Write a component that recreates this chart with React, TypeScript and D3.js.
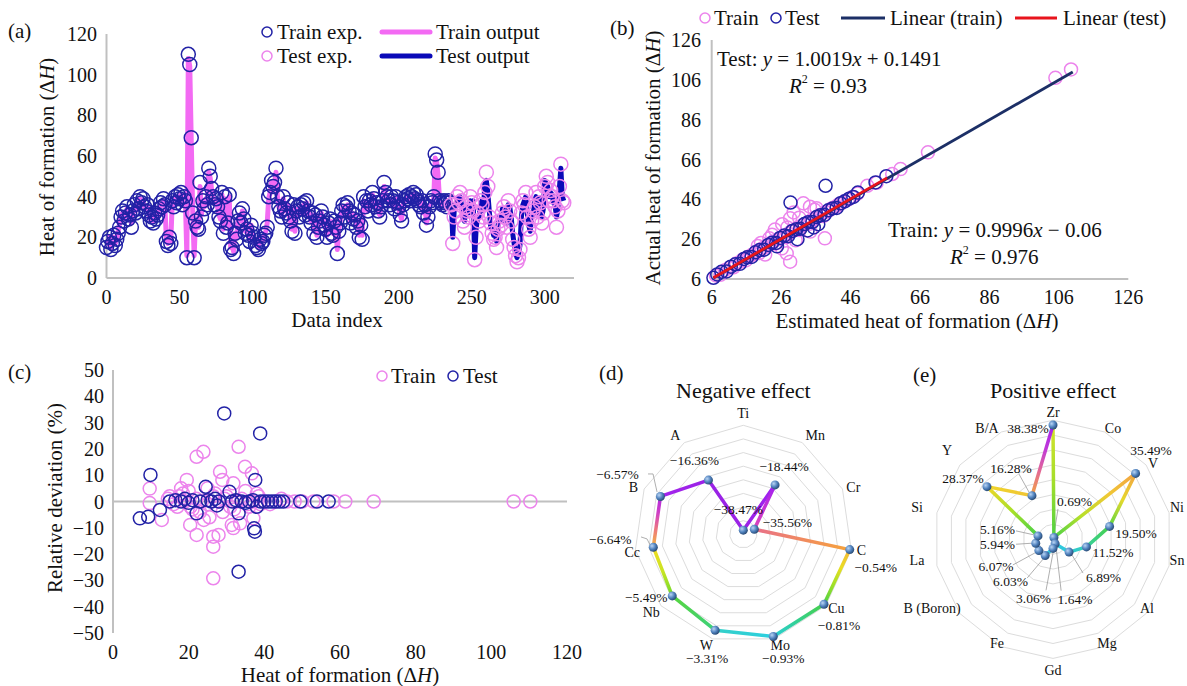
import React from 'react';
import * as d3 from 'd3';

const W = 1187;
const H = 686;
const FONT = "'Liberation Serif', 'Times New Roman', Times, 'DejaVu Serif', serif";

// ---------- (a) experimental values and model outputs by data index ----------
const TEST_START = 236;
const trainExp = [
  15, 18, 20, 14, 17, 21, 16, 19, 22, 25,
  30, 33, 28, 32, 35, 29, 31, 25, 33, 36,
  32, 38, 34, 40, 37, 39, 35, 33, 36, 31,
  28, 30, 27, 32, 29, 31, 34, 37, 35, 39,
  36, 18, 16, 20, 17, 38, 35, 40, 37, 41,
  39, 42, 36, 40, 38, 10, 110, 105, 69, 32,
  10, 28, 25, 24, 47, 30, 38, 34, 40, 36,
  54, 50, 44, 40, 36, 39, 35, 30, 28, 42,
  22, 40, 25, 27, 41, 14, 15, 12, 22, 19,
  28, 32, 27, 34, 29, 22, 24, 21, 18, 26,
  22, 20, 16, 15, 14, 19, 17, 18, 21, 22,
  25, 40, 42, 48, 45, 47, 54, 40, 35, 33,
  30, 40, 34, 32, 37, 30, 28, 23, 36, 22,
  33, 35, 30, 36, 34, 37, 31, 38, 33, 30,
  27, 32, 22, 31, 20, 25, 28, 33, 30, 26,
  24, 20, 27, 29, 22, 21, 28, 25, 12, 23,
  27, 33, 36, 30, 35, 37, 33, 27, 32, 29,
  31, 25, 28, 20, 26, 19, 40, 35, 38, 33,
  38, 36, 42, 39, 35, 37, 33, 30, 35, 38,
  47, 42, 40, 38, 36, 40, 38, 34, 40, 37,
  35, 31, 28, 36, 38, 40, 39, 41, 38, 40,
  42, 39, 41, 38, 36, 35, 38, 32, 36, 26,
  30, 35, 38, 37, 40, 61, 58, 52, 38, 37,
  36, 38, 37, 35, 38, 37,
];
const trainOut = [
  16, 17, 20, 15, 18, 20, 17, 19, 23, 27,
  31, 32, 29, 31, 34, 30, 31, 27, 33, 35,
  33, 37, 35, 39, 37, 38, 35, 34, 35, 31,
  29, 30, 28, 31, 30, 31, 34, 36, 36, 38,
  35, 19, 17, 20, 18, 37, 35, 39, 38, 40,
  39, 41, 37, 40, 38, 11, 108, 104, 68, 33,
  11, 29, 26, 25, 45, 31, 37, 35, 39, 36,
  52, 49, 43, 40, 37, 38, 35, 31, 29, 41,
  24, 39, 26, 28, 40, 15, 16, 13, 22, 20,
  28, 31, 28, 33, 29, 23, 24, 22, 19, 26,
  22, 20, 17, 16, 15, 19, 18, 18, 21, 23,
  27, 39, 42, 47, 45, 46, 52, 40, 35, 33,
  31, 39, 34, 33, 36, 30, 28, 24, 35, 23,
  33, 34, 31, 35, 34, 36, 32, 37, 33, 30,
  28, 31, 23, 31, 21, 25, 28, 32, 30, 26,
  24, 21, 27, 28, 23, 22, 28, 25, 14, 24,
  28, 33, 35, 31, 35, 36, 33, 28, 32, 29,
  31, 26, 28, 21, 26, 21, 38, 35, 37, 33,
  37, 36, 41, 39, 35, 37, 33, 31, 35, 38,
  45, 41, 40, 38, 36, 39, 38, 34, 39, 37,
  35, 31, 29, 36, 38, 39, 39, 40, 38, 39,
  41, 39, 40, 38, 36, 35, 37, 32, 36, 27,
  30, 35, 37, 37, 39, 59, 57, 50, 38, 37,
  36, 37, 37, 35, 37, 37,
];
const testExp = [
  36, 17, 30, 33, 40, 37, 42, 38, 28, 25,
  35, 33, 30, 40, 37, 33, 9, 20, 32, 28,
  38, 36, 30, 42, 52, 45, 30, 27, 22, 19,
  20, 15, 24, 28, 26, 32, 35, 30, 25, 38,
  33, 28, 19, 15, 11, 8, 10, 14, 32, 38,
  36, 42, 30, 24, 20, 28, 33, 35, 42, 30,
  40, 37, 27, 32, 45, 50, 47, 38, 43, 40,
  38, 35, 25, 33, 45, 56, 38, 37,
];
const testOut = [
  37, 20, 33, 35, 38, 40, 40, 36, 30, 28,
  33, 35, 32, 38, 36, 38, 10, 24, 30, 30,
  36, 38, 33, 47, 48, 42, 33, 25, 24, 21,
  22, 18, 26, 30, 28, 34, 33, 28, 27, 36,
  35, 30, 22, 17, 12, 10, 12, 16, 30, 36,
  38, 40, 32, 26, 23, 30, 31, 37, 40, 32,
  38, 39, 30, 34, 48, 46, 45, 40, 42, 41,
  37, 36, 30, 34, 44, 54, 40, 38,
];
const aXTicks = [0, 50, 100, 150, 200, 250, 300];
const aYTicks = [0, 20, 40, 60, 80, 100, 120];

// ---------- (b) estimated vs actual ----------
const bTrainEst = [
  7.2, 8.5, 9.8, 11, 12.3, 13.1, 14.2, 15.0, 15.8, 16.6, 17.4, 18.1, 18.9, 19.7, 20.4, 21.2,
  22.0, 22.8, 23.5, 24.3, 25.1, 25.8, 26.6, 27.3, 28.1, 28.9, 29.6, 30.4, 31.2, 31.9, 32.7,
  33.5, 34.2, 35.0, 35.8, 36.5, 37.3, 38.1, 38.8, 39.6, 40.4, 41.1, 41.9, 42.7, 43.5, 44.3,
  45.2, 46.4, 48, 50.8, 53.5, 58, 60.4, 68.3, 105, 109.5,
  28.6, 38.6, 29.6, 26.3, 26.2, 27.6, 32.4, 34.3, 28.6, 36.2, 31.2, 24.2, 22.6, 21.4, 35.6,
  30.2, 27.8, 34.4, 23.4, 20.2, 19.3,
];
const bTrainAct = [
  7.8, 8.1, 10.4, 11.6, 11.9, 13.8, 14.6, 15.9, 15.3, 17.2, 17.9, 18.6, 19.8, 19.1, 21.2, 21.9,
  22.8, 23.4, 24.6, 23.8, 25.9, 26.7, 27.4, 26.9, 28.8, 29.9, 30.4, 31.2, 30.6, 32.8, 33.5,
  34.3, 33.7, 35.9, 36.4, 37.4, 38.1, 37.6, 39.7, 40.2, 41.3, 41.8, 42.5, 43.6, 44.2, 45.1,
  45.8, 47.1, 48.9, 52.8, 54.3, 58.7, 61.2, 69.6, 107, 111.2,
  14.7, 26.4, 39.4, 33.5, 21.4, 18.9, 44.0, 42.3, 36.5, 41.5, 36.8, 30.8, 26.4, 18.3, 40.8,
  25.4, 31.9, 29.8, 28.2, 24.1, 22.6,
];
const bTestEst = [
  6.5, 7.6, 8.8, 10.3, 11.5, 12.8, 14.1, 15.3, 16.2, 17.5, 18.6, 19.8, 21.1, 22.3, 23.4, 24.6,
  25.7, 26.9, 28.0, 29.2, 30.4, 31.5, 32.7, 33.8, 35.0, 36.2, 37.3, 38.5, 39.6, 40.8, 42.0,
  43.1, 44.3, 45.6, 46.8, 48.1, 53.2, 56.3,
  28.7, 38.8, 30.7, 36.7, 35.4, 24.8, 33.6,
];
const bTestAct = [
  6.6, 8.3, 9.6, 9.8, 12.2, 13.4, 13.6, 16.1, 16.9, 17.1, 19.4, 20.5, 20.7, 23.1, 24.2, 24.1,
  26.6, 27.8, 27.5, 30.1, 31.0, 31.2, 33.6, 34.5, 34.6, 37.1, 38.0, 38.2, 40.5, 41.4, 41.7,
  44.0, 45.0, 46.3, 47.2, 49.4, 54.5, 57.6,
  44.4, 52.8, 26, 33.5, 31.9, 22.4, 30.4,
];
const bTicks = [6, 26, 46, 66, 86, 106, 126];
const trainFit = { slope: 0.9996, intercept: -0.06, from: 6.5, to: 110 };
const testFit = { slope: 1.0019, intercept: 0.1491, from: 6.5, to: 56.5 };

// ---------- (c) relative deviation vs heat of formation ----------
const cTrainX = [
  14.5, 16, 17.5, 19, 20.5, 22, 23.5, 25, 26.5, 28, 29.5, 31, 32.5, 34, 35.5, 37, 38.5, 40,
  41.5, 43, 44.5, 46, 48, 50, 53, 58.3, 61.4, 68.9, 105.9, 110.3,
  9.7, 9.7, 12.9, 15, 17, 18.5, 19.5, 20.4, 22.1, 22.1, 23.9, 24, 26.5, 26.5, 26.5, 27.9, 28.3,
  28.9, 31.8, 33.2, 34.9, 33.6, 31.4, 31.8, 37.1, 36.7, 20, 21, 25, 27, 29, 30, 32, 35, 36, 38,
  39, 25.5, 23, 18,
];
const cTrainY = [
  1, -1, 2, 0, -2, 1, 0, -1, 2, 0, 1, -2, 0, 1, -1, 0, 2, 0,
  -1, 0, 1, 0, 0, 0, 0, 0, 0, 0, 0, 0,
  4.9, -0.6, -7, 2, -2, 3, 8.2, -8.9, 17, -12.7, 18.9, -7, -13.4, -17.2, -29.2, -12.7, 11.3,
  8.2, 6.9, 20.8, 13.2, -8.3, -8.9, -10.1, -6.4, 10.7, 4, -3, 5, 3, -4, 2, -3, 4, -2, 3,
  -1, -6, -4, 5,
];
const cTestX = [
  7.1, 9.3, 9.9, 12.4, 15, 16.5, 18, 19, 20, 21, 22.1, 23, 24.5, 25, 26, 27, 27.5, 28, 29.4,
  30.8, 31.5, 32.5, 33.2, 33.2, 34, 35, 36, 37, 37.3, 37.5, 37.6, 38.9, 38, 39, 40, 41, 42, 43,
  44, 45, 49.5, 53.9, 57,
];
const cTestY = [
  -6.4, -5.8, 10.1, -3.2, 0, 0.5, 0, 1, -0.5, 0.5, -4.5, 0, 5.6, 0.5, 0, 1, -1.5, 0, 33.5,
  3.7, 0, 0.5, -4.5, -26.7, 0, -0.5, 0, 0.5, -10.2, -11.5, 8.2, 25.9, -2, 0, 0, 0, 0, 0,
  0, 0, 0, 0, 0,
];
const cXTicks = [0, 20, 40, 60, 80, 100, 120];
const cYTicks = [-50, -40, -30, -20, -10, 0, 10, 20, 30, 40, 50];

// ---------- (d) negative effect ----------
const negElements = ['Ti', 'Mn', 'Cr', 'C', 'Cu', 'Mo', 'W', 'Nb', 'Cc', 'B', 'A'];
const negValues = [-38.47, -18.44, -35.56, -0.54, -0.81, -0.93, -3.31, -5.49, -6.64, -6.57, -16.36];

// ---------- (e) positive effect ----------
const posElements = ['Zr', 'Co', 'V', 'Ni', 'Sn', 'Al', 'Mg', 'Gd', 'Fe', 'B (Boron)', 'La', 'Si', 'Y', 'B/A'];
const posValues = [38.38, 0.69, 35.49, 19.5, 11.52, 6.89, 1.64, 3.06, 6.03, 6.07, 5.94, 5.16, 28.37, 16.28];

// ---------- styling ----------
const BLUE_RING = '#2222a6';
const PINK_RING = '#ec84ec';
const PINK_LINE = '#f36af3';
const BLUE_LINE = '#0a0ab8';
const AXIS = '#c0c0c0';
const TXT = '#111';

const fmtMinus = (v: number) => (v < 0 ? '\u2212' + Math.abs(v) : String(v));
const fmtPct = (v: number) => (v < 0 ? '\u2212' + Math.abs(v).toFixed(2) : v.toFixed(2)) + '%';

function DeltaH() {
  return (
    <>
      (Δ<tspan fontStyle="italic">H</tspan>)
    </>
  );
}

function PanelA() {
  const x = d3.scaleLinear().domain([0, 320]).range([106.5, 574]);
  const y = d3.scaleLinear().domain([0, 120]).range([278, 34]);
  const trainLine = d3.line<number>().x((_, i) => x(i)).y((d) => y(d));
  const testLine = d3.line<number>().x((_, i) => x(i + TEST_START)).y((d) => y(d));
  return (
    <g>
      <text x={8} y={31} fontSize={21} dominantBaseline="central">(a)</text>
      <line x1={x(0)} x2={x(0)} y1={y(120)} y2={y(0)} stroke={AXIS} strokeWidth={2} />
      <line x1={x(0)} x2={x(320)} y1={y(0)} y2={y(0)} stroke={AXIS} strokeWidth={2} />
      {aYTicks.map((t) => (
        <text key={t} x={97} y={y(t)} fontSize={20} textAnchor="end" dominantBaseline="central">{t}</text>
      ))}
      {aXTicks.map((t) => (
        <text key={t} x={x(t)} y={297} fontSize={20} textAnchor="middle" dominantBaseline="central">{t}</text>
      ))}
      <path d={trainLine(trainOut) || ''} fill="none" stroke={PINK_LINE} strokeWidth={5} strokeLinejoin="round" />
      <path d={testLine(testOut) || ''} fill="none" stroke={BLUE_LINE} strokeWidth={5} strokeLinejoin="round" />
      {trainExp.map((v, i) => (
        <circle key={'tr' + i} cx={x(i)} cy={y(v)} r={7} fill="none" stroke={BLUE_RING} strokeWidth={1.5} />
      ))}
      {testExp.map((v, i) => (
        <circle key={'te' + i} cx={x(i + TEST_START)} cy={y(v)} r={7} fill="none" stroke={PINK_RING} strokeWidth={1.5} />
      ))}
      <text transform="translate(47,157) rotate(-90)" fontSize={21} textAnchor="middle" dominantBaseline="central">
        Heat of formation <DeltaH />
      </text>
      <text x={337} y={320} fontSize={21} textAnchor="middle" dominantBaseline="central">Data index</text>
      {/* legend */}
      <circle cx={267} cy={32} r={5} fill="none" stroke={BLUE_RING} strokeWidth={1.5} />
      <text x={277} y={32} fontSize={21} dominantBaseline="central">Train exp.</text>
      <circle cx={267} cy={56} r={5} fill="none" stroke={PINK_RING} strokeWidth={1.5} />
      <text x={277} y={56} fontSize={21} dominantBaseline="central">Test exp.</text>
      <line x1={382} x2={430} y1={32} y2={32} stroke={PINK_LINE} strokeWidth={5} strokeLinecap="round" />
      <text x={436} y={32} fontSize={21} dominantBaseline="central">Train output</text>
      <line x1={382} x2={430} y1={56} y2={56} stroke={BLUE_LINE} strokeWidth={5} strokeLinecap="round" />
      <text x={436} y={56} fontSize={21} dominantBaseline="central">Test output</text>
    </g>
  );
}

function PanelB() {
  const x = d3.scaleLinear().domain([6, 126]).range([711.7, 1128.3]);
  const y = d3.scaleLinear().domain([6, 126]).range([279, 40]);
  const fitLine = (f: { slope: number; intercept: number; from: number; to: number }) =>
    d3.line<number>().x((d) => x(d)).y((d) => y(f.slope * d + f.intercept))([f.from, f.to]) || '';
  return (
    <g>
      <text x={610} y={28} fontSize={21} dominantBaseline="central">(b)</text>
      <line x1={x(6)} x2={x(6)} y1={y(126)} y2={y(6)} stroke={AXIS} strokeWidth={2} />
      <line x1={x(6)} x2={x(126)} y1={y(6)} y2={y(6)} stroke={AXIS} strokeWidth={2} />
      {bTicks.map((t) => (
        <text key={'y' + t} x={701} y={y(t)} fontSize={20} textAnchor="end" dominantBaseline="central">{t}</text>
      ))}
      {bTicks.map((t) => (
        <text key={'x' + t} x={x(t)} y={297} fontSize={20} textAnchor="middle" dominantBaseline="central">{t}</text>
      ))}
      {bTrainEst.map((v, i) => (
        <circle key={'p' + i} cx={x(v)} cy={y(bTrainAct[i])} r={6.5} fill="none" stroke={PINK_RING} strokeWidth={1.5} />
      ))}
      {bTestEst.map((v, i) => (
        <circle key={'b' + i} cx={x(v)} cy={y(bTestAct[i])} r={6.5} fill="none" stroke={BLUE_RING} strokeWidth={1.5} />
      ))}
      <path d={fitLine(trainFit)} stroke="#1c2f66" strokeWidth={2.8} fill="none" />
      <path d={fitLine(testFit)} stroke="#e8141c" strokeWidth={2.8} fill="none" />
      <text x={717} y={59} fontSize={21} dominantBaseline="central">
        Test: <tspan fontStyle="italic">y</tspan> = 1.0019<tspan fontStyle="italic">x</tspan> + 0.1491
      </text>
      <text x={789} y={86} fontSize={21} dominantBaseline="central">
        <tspan fontStyle="italic">R</tspan>
        <tspan fontSize={12} dy={-7}>2</tspan>
        <tspan dy={7}> = 0.93</tspan>
      </text>
      <text x={888} y={230} fontSize={21} dominantBaseline="central">
        Train: <tspan fontStyle="italic">y</tspan> = 0.9996<tspan fontStyle="italic">x</tspan> − 0.06
      </text>
      <text x={950} y={257} fontSize={21} dominantBaseline="central">
        <tspan fontStyle="italic">R</tspan>
        <tspan fontSize={12} dy={-7}>2</tspan>
        <tspan dy={7}> = 0.976</tspan>
      </text>
      <text transform="translate(653,158) rotate(-90)" fontSize={21} textAnchor="middle" dominantBaseline="central">
        Actual heat of formation <DeltaH />
      </text>
      <text x={917} y={321} fontSize={21} textAnchor="middle" dominantBaseline="central">
        Estimated heat of formation <DeltaH />
      </text>
      {/* legend */}
      <circle cx={705} cy={18} r={5} fill="none" stroke={PINK_RING} strokeWidth={1.5} />
      <text x={714} y={18} fontSize={21} dominantBaseline="central">Train</text>
      <circle cx={776} cy={18} r={5} fill="none" stroke={BLUE_RING} strokeWidth={1.5} />
      <text x={785} y={18} fontSize={21} dominantBaseline="central">Test</text>
      <line x1={841} x2={885} y1={18} y2={18} stroke="#1c2f66" strokeWidth={2.8} />
      <text x={890} y={18} fontSize={21} dominantBaseline="central">Linear (train)</text>
      <line x1={1015} x2={1057} y1={18} y2={18} stroke="#e8141c" strokeWidth={2.8} />
      <text x={1063} y={18} fontSize={21} dominantBaseline="central">Linear (test)</text>
    </g>
  );
}

function PanelC() {
  const x = d3.scaleLinear().domain([0, 120]).range([113, 567]);
  const y = d3.scaleLinear().domain([-50, 50]).range([633, 370]);
  return (
    <g>
      <text x={8} y={372} fontSize={21} dominantBaseline="central">(c)</text>
      <line x1={x(0)} x2={x(0)} y1={y(50)} y2={y(-50)} stroke={AXIS} strokeWidth={2} />
      <line x1={x(0)} x2={x(120)} y1={y(0)} y2={y(0)} stroke={AXIS} strokeWidth={2} />
      {cYTicks.map((t) => (
        <text key={'y' + t} x={104} y={y(t)} fontSize={20} textAnchor="end" dominantBaseline="central">{fmtMinus(t)}</text>
      ))}
      {cXTicks.map((t) => (
        <text key={'x' + t} x={x(t)} y={652} fontSize={20} textAnchor="middle" dominantBaseline="central">{t}</text>
      ))}
      {cTrainX.map((v, i) => (
        <circle key={'p' + i} cx={x(v)} cy={y(cTrainY[i])} r={6.5} fill="none" stroke={PINK_RING} strokeWidth={1.5} />
      ))}
      {cTestX.map((v, i) => (
        <circle key={'b' + i} cx={x(v)} cy={y(cTestY[i])} r={6.5} fill="none" stroke={BLUE_RING} strokeWidth={1.5} />
      ))}
      <text transform="translate(55,498) rotate(-90)" fontSize={21} textAnchor="middle" dominantBaseline="central">
        Relative deviation (%)
      </text>
      <text x={340} y={675} fontSize={21} textAnchor="middle" dominantBaseline="central">
        Heat of formation <DeltaH />
      </text>
      <circle cx={382} cy={376} r={5} fill="none" stroke={PINK_RING} strokeWidth={1.5} />
      <text x={391} y={376} fontSize={21} dominantBaseline="central">Train</text>
      <circle cx={453} cy={376} r={5} fill="none" stroke={BLUE_RING} strokeWidth={1.5} />
      <text x={463} y={376} fontSize={21} dominantBaseline="central">Test</text>
    </g>
  );
}

type RadarProps = {
  id: string;
  cx: number;
  cy: number;
  radius: number;
  domain: [number, number];
  cats: string[];
  values: number[];
  catOffsets: [number, number][];
  valueOffsets: [number, number][];
  leaders: ([number, number][] | null)[];
  segColors: string[][];
  title: string;
  tag: string;
  tagX: number;
};

function Radar(p: RadarProps) {
  const n = p.cats.length;
  const r = d3.scaleLinear().domain(p.domain).range([0, p.radius]);
  const ang = (i: number) => (2 * Math.PI * i) / n;
  const pt = (rad: number, i: number): [number, number] => [p.cx + rad * Math.sin(ang(i)), p.cy - rad * Math.cos(ang(i))];
  const pts = p.values.map((v, i) => pt(r(v), i));
  const rings = d3.range(1, 9).map((k) => d3.range(n).map((i) => pt((p.radius * k) / 8, i)));
  return (
    <g>
      <defs>
        <radialGradient id={p.id + '-ball'} cx="35%" cy="35%" r="70%">
          <stop offset="0%" stopColor="#b8d4f4" />
          <stop offset="55%" stopColor="#4f81bd" />
          <stop offset="100%" stopColor="#27476f" />
        </radialGradient>
        {pts.map((a, i) => {
          const b = pts[(i + 1) % n];
          const cols = p.segColors[i];
          return (
            <linearGradient key={i} id={`${p.id}-seg${i}`} gradientUnits="userSpaceOnUse" x1={a[0]} y1={a[1]} x2={b[0] + 0.01} y2={b[1] + 0.01}>
              {cols.map((c, k) => (
                <stop key={k} offset={cols.length === 1 ? 0 : k / (cols.length - 1)} stopColor={c} />
              ))}
            </linearGradient>
          );
        })}
      </defs>
      <text x={p.tagX} y={p.tag === '(d)' ? 373 : 375} fontSize={21} dominantBaseline="central">{p.tag}</text>
      <text x={p.cx} y={390} fontSize={22} textAnchor="middle" dominantBaseline="central">{p.title}</text>
      {rings.map((ring, k) => (
        <polygon key={k} points={ring.map((q) => q.join(',')).join(' ')} fill="none" stroke="#dcdcdc" strokeWidth={1} />
      ))}
      {p.cats.map((c, i) => (
        <text key={c} x={p.cx + p.catOffsets[i][0]} y={p.cy + p.catOffsets[i][1]} fontSize={14} textAnchor="middle" dominantBaseline="central" fill={TXT}>
          {c}
        </text>
      ))}
      {p.leaders.map((ld, i) =>
        ld ? (
          <polyline key={'ld' + i} points={ld.map((o) => `${pts[i][0] + o[0]},${pts[i][1] + o[1]}`).join(' ')} fill="none" stroke="#9a9a9a" strokeWidth={0.8} />
        ) : null
      )}
      {pts.map((a, i) => {
        const b = pts[(i + 1) % n];
        return (
          <line key={'s' + i} x1={a[0]} y1={a[1]} x2={b[0]} y2={b[1]} stroke={`url(#${p.id}-seg${i})`} strokeWidth={3.5} strokeLinecap="round" />
        );
      })}
      {pts.map((a, i) => (
        <circle key={'m' + i} cx={a[0]} cy={a[1]} r={4.5} fill={`url(#${p.id}-ball)`} />
      ))}
      {p.values.map((v, i) => (
        <text key={'v' + i} x={pts[i][0] + p.valueOffsets[i][0]} y={pts[i][1] + p.valueOffsets[i][1]} fontSize={13.5} textAnchor="middle" dominantBaseline="central" fill={TXT}>
          {fmtPct(v)}
        </text>
      ))}
    </g>
  );
}

export default function App() {
  return (
    <svg width={W} height={H} viewBox={`0 0 ${W} ${H}`} fill={TXT} style={{ position: 'absolute', left: 0, top: 0, background: '#fff', fontFamily: FONT }}>
      <style>{`text, tspan { font-family: ${FONT}; }`}</style>
      <rect width={W} height={H} fill="#fff" />
      <PanelA />
      <PanelB />
      <PanelC />
      <Radar
        id="neg"
        cx={743.3}
        cy={534.3}
        radius={109}
        domain={[-40, 0]}
        cats={negElements}
        values={negValues}
        catOffsets={[[0, -121], [72, -99], [110, -47], [118, 16], [93, 74], [37, 111], [-37, 111], [-92, 78], [-111, 18], [-110, -47], [-68, -99]]}
        valueOffsets={[[-5, -21], [9, -18], [33, -7], [26, 18], [15, 21], [10, 22], [-8, 28], [-26, 2], [-43, -8], [-43, -22], [-14, -20]]}
        leaders={[null, null, null, null, null, null, null, null, [[-12.3, -10.3], [-6.3, -8.3], [-3.3, -2.3]], [[-12.4, -22.5], [-7.4, -22.5], [-3.4, -4.5]], null]}
        segColors={[
          ['#9a22e6', '#a020f0'],
          ['#a020f0', '#c530d6', '#dc48b8'],
          ['#e8708a', '#f08a60', '#f6a43a'],
          ['#f3b43a', '#eade22', '#9ae028', '#48d048'],
          ['#48d048', '#34d08e', '#2ccfd8'],
          ['#2ccfe0', '#34d0c8'],
          ['#3cd07c', '#58d63e'],
          ['#6cda2c', '#c8e424', '#f2dc22'],
          ['#f2b83c', '#ee7c7a', '#d040c4', '#b028e0'],
          ['#a424ec', '#9a22e6'],
          ['#9a22e6', '#9a22e6'],
        ]}
        title="Negative effect"
        tag="(d)"
        tagX={599}
      />
      <Radar
        id="pos"
        cx={1053}
        cy={539.3}
        radius={119.1}
        domain={[0, 40]}
        cats={posElements}
        values={posValues}
        catOffsets={[[0, -127], [60, -111], [100, -76], [124, -32], [124, 21], [94, 69], [54, 104], [0, 131], [-56, 104], [-121, 69], [-136, 21], [-136, -32], [-106, -89], [-66, -111]]}
        valueOffsets={[[-25, 3], [20.6, -35.5], [15.4, -23.4], [26.4, 6.7], [26.6, 6], [34.5, 25.9], [19.9, 56.3], [-19.5, 49.6], [-34.7, 26.5], [-42.9, 16.4], [-38.2, 1.7], [-40.5, -5.9], [-24, -8.6], [-21, -27.6]]}
        leaders={[
          null,
          [[4.1, -28.5], [0.1, -3.5]],
          null,
          null,
          null,
          [[14, 21], [3, 3]],
          [[6, 47], [1, 4]],
          [[-7, 42], [0, 4.5]],
          [[-18, 22.5], [-2, 3.5]],
          [[-26, 14.4], [-4, 2.4]],
          [[-19.7, 1], [-4.5, 0]],
          [[-22, -5], [-4, -1]],
          null,
          [[-13, -21.6], [-3, -3.6]],
        ]}
        segColors={[
          ['#d4e22c', '#a4de2a', '#4cd046'],
          ['#48d048', '#b8e02a', '#f0c834', '#f2a244'],
          ['#f2a244', '#e6d82c', '#58d640'],
          ['#48d048', '#36d0a0'],
          ['#36d0b4', '#30c8d8'],
          ['#30c8d8', '#30c8e0'],
          ['#30c8e0', '#30c8e0'],
          ['#30c8e0', '#30c8e0'],
          ['#30c8e0', '#30c8d8'],
          ['#30c8d8', '#32cac8'],
          ['#34ccc0', '#40d068'],
          ['#44d048', '#a8e028', '#f0d62a'],
          ['#f0d62a', '#f0c436'],
          ['#f2a440', '#e46c92', '#c038d8', '#a422ec'],
        ]}
        title="Positive effect"
        tag="(e)"
        tagX={913}
      />
    </svg>
  );
}
